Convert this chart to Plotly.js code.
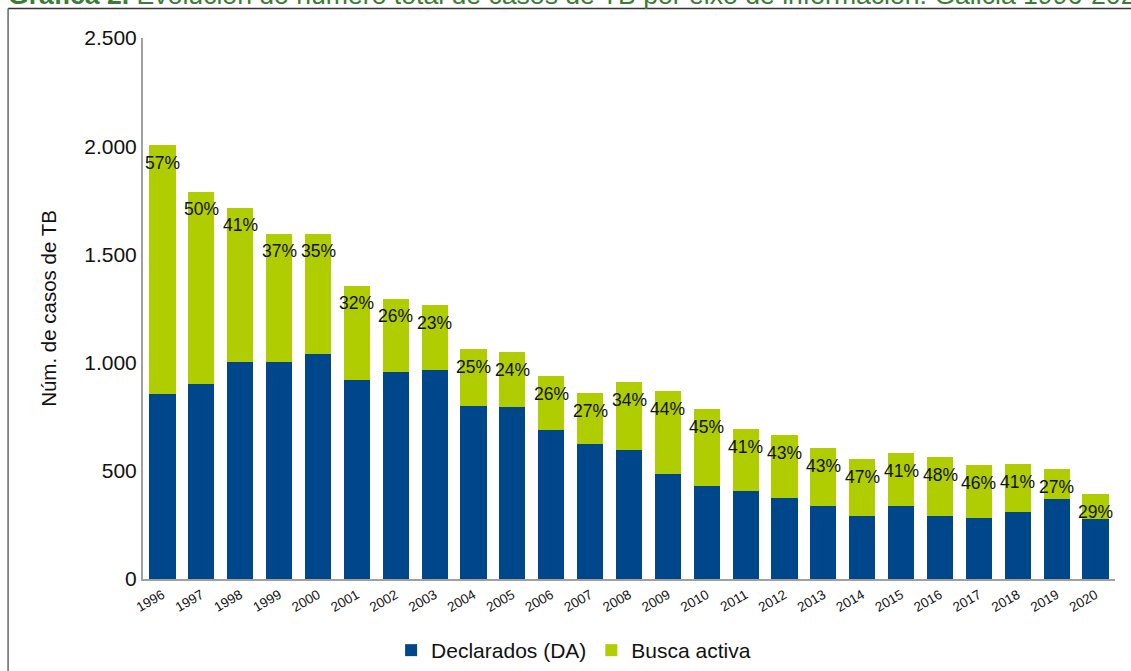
<!DOCTYPE html>
<html>
<head>
<meta charset="utf-8">
<script src="https://cdn.plot.ly/plotly-3.0.1.min.js"></script>
<style>
  html, body { margin: 0; padding: 0; background: #fff; }
  #chart { width: 1131px; height: 671px; }
</style>
</head>
<body>
<div id="chart"></div>
<script>
// Data
const years = ["1996","1997","1998","1999","2000","2001","2002","2003","2004","2005","2006","2007","2008","2009","2010","2011","2012","2013","2014","2015","2016","2017","2018","2019","2020"];
const declarados = [853, 899, 1001, 1001, 1042, 919, 955, 965, 798, 793, 687, 623, 595, 484, 429, 406, 374, 337, 291, 337, 291, 281, 309, 369, 277];
const buscaActiva = [1152, 891, 715, 595, 554, 437, 341, 299, 263, 254, 249, 235, 314, 383, 355, 286, 290, 267, 262, 244, 272, 245, 221, 138, 115];
const pctLabels = ["57%","50%","41%","37%","35%","32%","26%","23%","25%","24%","26%","27%","34%","44%","45%","41%","43%","43%","47%","41%","48%","46%","41%","27%","29%"];
const yTickVals = [0, 500, 1000, 1500, 2000, 2500];
const yTickText = ["0", "500", "1.000", "1.500", "2.000", "2.500"];
const seriesNames = ["Declarados (DA)", "Busca activa"];
const titleText = "<b>Gráfica 2.</b> Evolución do número total de casos de TB por eixo de información. Galicia 1996-2020";
const yTitle = "Núm. de casos de TB";

const blue = "#00468a";
const green = "#afcd00";
const FONT = "Liberation Sans, Arial, sans-serif";

const totals = declarados.map((d, i) => d + buscaActiva[i]);

const traces = [
  { type: "bar", name: seriesNames[0], x: years, y: declarados, marker: { color: blue }, hoverinfo: "x+y" },
  { type: "bar", name: seriesNames[1], x: years, y: buscaActiva, marker: { color: green }, hoverinfo: "x+y" }
];

// percentage labels (category index positions on the category axis)
const annotations = years.map((yr, i) => ({
  x: i, y: totals[i], xref: "x", yref: "y",
  text: pctLabels[i], showarrow: false,
  yanchor: "top", xanchor: "center", yshift: -5.5,
  font: { family: FONT, size: 17.5, color: "#111" }
}));

// chart heading, partly cut off at the top edge as in the reference
annotations.push({
  xref: "paper", yref: "paper", x: -0.141, y: 1.08,
  xanchor: "left", yanchor: "middle", showarrow: false,
  text: titleText, font: { family: FONT, size: 26.6, color: "#3a7d34" }
});

const layout = {
  width: 1131, height: 671,
  margin: { l: 143, r: 15.5, t: 37.5, b: 91.5, pad: 0 },
  paper_bgcolor: "#fff", plot_bgcolor: "#fff",
  font: { family: FONT, color: "#111" },
  barmode: "stack",
  bargap: 0.33,
  xaxis: {
    type: "category",
    tickangle: -30,
    tickfont: { family: FONT, size: 13.5, color: "#111" },
    showgrid: false, zeroline: false,
    showline: true, linecolor: "#a0a0a0", linewidth: 2,
    ticks: "", automargin: false, ticklabelstandoff: 1
  },
  yaxis: {
    range: [0, 2500],
    tickvals: yTickVals, ticktext: yTickText,
    tickfont: { family: FONT, size: 21, color: "#111" },
    showgrid: false, zeroline: false,
    showline: true, linecolor: "#a0a0a0", linewidth: 2,
    ticks: "", ticklen: 0,
    title: { text: yTitle, font: { family: FONT, size: 20.5, color: "#111" }, standoff: 22 },
    automargin: false
  },
  showlegend: true,
  legend: {
    orientation: "h", xref: "paper", x: 0.443, xanchor: "center",
    yref: "container", y: 0, yanchor: "bottom",
    font: { family: FONT, size: 21, color: "#111" },
    traceorder: "normal"
  },
  annotations: annotations,
  shapes: [
    { type: "line", xref: "paper", yref: "paper", x0: -0.1388, x1: 1.2, y0: 1.0544, y1: 1.0544, line: { color: "#333", width: 1.5 } },
    { type: "line", xref: "paper", yref: "paper", x0: -0.1388, x1: -0.1388, y0: 1.0544, y1: -0.2, line: { color: "#666", width: 1.5 } }
  ]
};

Plotly.newPlot("chart", traces, layout, { displayModeBar: false });
</script>
</body>
</html>
